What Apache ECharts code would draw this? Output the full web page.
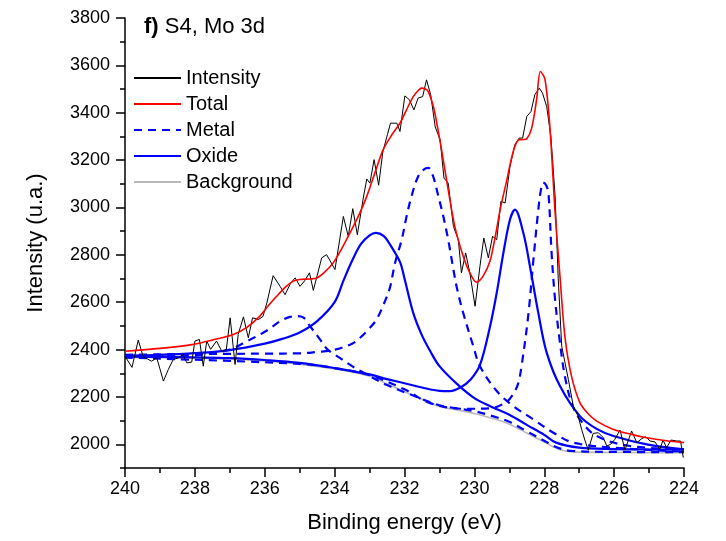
<!DOCTYPE html>
<html><head><meta charset="utf-8">
<script src="https://cdn.jsdelivr.net/npm/echarts@6/dist/echarts.min.js"></script>
<style>html,body{margin:0;padding:0;background:#fff}#c{width:726px;height:541px}</style>
</head><body><div id="c"></div>
<script>
const yMajorTicks = [2000,2200,2400,2600,2800,3000,3200,3400,3600,3800];

const intensityE = [240.00,239.80,239.62,239.48,239.24,239.09,238.90,238.76,238.62,238.47,238.35,238.23,238.09,238.00,237.87,237.76,237.66,237.55,237.38,237.23,237.10,236.99,236.85,236.76,236.61,236.47,236.35,236.18,236.05,235.94,235.76,235.56,235.42,235.26,235.13,234.99,234.86,234.72,234.61,234.37,234.23,233.99,233.75,233.61,233.48,233.35,233.18,233.08,232.99,232.87,232.74,232.62,232.49,232.40,232.22,232.13,231.99,231.86,231.73,231.61,231.48,231.37,231.25,231.12,230.98,230.87,230.75,230.60,230.46,230.37,230.25,230.13,229.98,229.84,229.73,229.60,229.48,229.36,229.24,229.12,228.98,228.84,228.72,228.62,228.50,228.38,228.27,228.14,228.05,227.93,227.81,227.69,227.60,227.50,227.31,227.17,227.03,226.93,226.83,226.74,226.60,226.45,226.31,226.21,226.10,225.98,225.83,225.69,225.50,225.35,225.21,225.10,224.97,224.83,224.69,224.60,224.50,224.37,224.21,224.10,224.02];
const intensityY = [2372,2325,2440,2370,2351,2365,2267,2316,2358,2365,2379,2344,2347,2436,2443,2330,2436,2401,2436,2393,2400,2534,2337,2464,2538,2450,2534,2527,2540,2597,2712,2667,2632,2680,2703,2667,2690,2724,2650,2787,2801,2738,2962,2878,2995,2885,3040,3120,3103,3202,3094,3235,3307,3356,3356,3321,3471,3455,3412,3462,3468,3539,3476,3340,3286,3124,3103,2920,2864,2724,2808,2724,2583,2752,2871,2787,2878,2864,3026,3019,3173,3265,3293,3293,3384,3405,3476,3504,3483,3426,3300,3050,2700,2414,2274,2162,2119,2063,2014,1976,2046,2049,2028,1993,2000,2021,2060,1976,2056,2007,2024,2032,2014,2010,1979,2018,1986,2018,2014,2014,1944];

const totalE = [240,239,238.04,237.5,236.9,236.5,236.14,235.9,235.66,235.4,235.18,235,234.7,234.51,234.3,234.04,233.8,233.56,233.3,233.08,232.85,232.61,232.37,232.13,231.95,231.75,231.6,231.51,231.4,231.32,231.2,231.13,230.94,230.75,230.56,230.32,230.13,229.94,229.75,229.55,229.4,229.25,229.08,228.95,228.84,228.72,228.6,228.5,228.36,228.22,228.11,227.98,227.84,227.69,227.55,227.41,227.22,226.98,226.75,226.5,226.02,225.5,225.07,224.5,224];
const totalY = [2393,2405,2422,2440,2464,2495,2541,2585,2625,2665,2689,2696,2698,2702,2725,2766,2825,2893,2970,3047,3145,3244,3305,3356,3410,3468,3495,3504,3500,3489,3440,3398,3244,3075,2920,2794,2724,2684,2710,2775,2880,3000,3110,3200,3258,3286,3287,3290,3335,3455,3574,3542,3342,2980,2710,2457,2288,2176,2130,2098,2063,2042,2028,2015,2007];

const metal1E = [240,239,238,237.5,237,236.5,236,235.76,235.5,235.28,235.1,234.9,234.71,234.42,234.2,233.85,233.5,233.08,232.5,231.84,231,230.5,230,229.5,229,228.5,228,227.6,227.2,226,224];
const metal1Y = [2372,2372,2375,2385,2400,2436,2475,2499,2525,2538,2541,2536,2500,2443,2400,2365,2330,2295,2250,2211,2165,2152,2140,2120,2095,2055,2015,1985,1972,1968,1967];

const metal2E = [240,239,238,237,236,235,234.5,234.04,233.5,233.27,233,232.8,232.6,232.42,232.27,232.08,231.94,231.8,231.61,231.45,231.32,231.18,231.03,230.89,230.75,230.6,230.5,230.32,230.03,229.84,229.36,228.89,228.31,227.74,227.17,226.02,224];
const metal2Y = [2378,2380,2381,2382,2383,2384,2390,2398,2425,2450,2490,2527,2590,2660,2766,2864,2963,3047,3131,3160,3167,3131,3047,2963,2864,2738,2660,2555,2414,2330,2225,2162,2105,2049,2007,1986,1969];

const metal3E = [240,235,234,233,232,231.28,230.33,229.56,229.09,228.9,228.75,228.65,228.46,228.31,228.17,228.1,228.03,227.95,227.88,227.79,227.69,227.55,227.41,227.22,226.98,226.5,225.55,224];
const metal3Y = [2366,2340,2322,2292,2232,2175,2150,2152,2178,2210,2255,2330,2541,2780,2991,3070,3105,3095,3061,2808,2611,2429,2288,2176,2105,2035,1993,1979];

const oxide1E = [240,239,238,237,236,235.5,235,234.5,234,233.75,233.5,233.25,233,232.82,232.6,232.4,232.13,232,231.75,231.5,231.25,231,230.5,230,229.5,229,228.5,228,227.66,227,226,225,224];
const oxide1Y = [2375,2378,2385,2398,2425,2445,2472,2520,2600,2690,2775,2845,2882,2893,2880,2840,2770,2700,2555,2460,2390,2330,2255,2195,2158,2125,2082,2040,2007,1986,1980,1978,1977];

const oxide2E = [240,239,238,237,236,235,234,233,232.5,232,231.5,231,230.7,230.4,230.1,229.84,229.55,229.36,229.17,228.98,228.84,228.6,228.41,228.17,227.93,227.55,226.98,226.5,226.02,225.07,224];
const oxide2Y = [2370,2369,2367,2364,2356,2344,2322,2295,2275,2258,2240,2226,2225,2240,2275,2335,2499,2640,2808,2949,2991,2893,2752,2555,2387,2246,2119,2065,2035,2000,1979];

const backgroundE = [240,239,238,237,236,235,234,233.5,233,232.5,232,231.5,231,230.5,230,229.5,229,228.5,228,227.6,227.2,226.5,225,224];
const backgroundY = [2367,2366,2364,2360,2352,2338,2318,2305,2288,2255,2222,2190,2160,2145,2130,2110,2085,2048,2010,1980,1968,1966,1965,1965];

const zip = (xs, ys) => xs.map((x, i) => [x, ys[i]]);
const FONT = 'Liberation Sans';

const chart = echarts.init(document.getElementById('c'), null, {renderer: 'canvas'});

const metalStyle = {color: '#0000ff', width: 2.2, type: [8, 6]};
const oxideStyle = {color: '#0000ff', width: 2.2, type: 'solid'};

chart.setOption({
  animation: false,
  backgroundColor: '#ffffff',
  title: {
    text: '{b|f)} S4, Mo 3d',
    left: 144, top: 16, padding: 0,
    textStyle: {
      fontFamily: FONT, fontSize: 22, fontWeight: 'normal', color: '#000',
      rich: {b: {fontFamily: FONT, fontSize: 22, fontWeight: 'bold', color: '#000'}}
    }
  },
  legend: {
    orient: 'vertical', left: 133, top: 68, padding: 0,
    itemWidth: 47, itemHeight: 14, itemGap: 6,
    data: ['Intensity', 'Total', 'Metal', 'Oxide', 'Background'],
    textStyle: {fontFamily: FONT, fontSize: 20, color: '#000', lineHeight: 20},
    itemStyle: {opacity: 0},
    selectedMode: false
  },
  grid: {left: 125, right: 42, top: 18, bottom: 73, containLabel: false},
  xAxis: {
    type: 'value', inverse: true, min: 224, max: 240, interval: 2,
    name: 'Binding energy (eV)', nameLocation: 'middle', nameGap: 44,
    nameTextStyle: {fontFamily: FONT, fontSize: 22, color: '#000'},
    axisLine: {show: true, onZero: false, lineStyle: {color: '#000', width: 1.5}},
    axisTick: {show: true, length: 9, lineStyle: {color: '#000', width: 1.5}},
    minorTick: {show: true, splitNumber: 2, length: 5, lineStyle: {color: '#000', width: 1.5}},
    axisLabel: {fontFamily: FONT, fontSize: 18, color: '#000', margin: 12, formatter: v => String(v)},
    splitLine: {show: false}, minorSplitLine: {show: false}
  },
  yAxis: [{
    type: 'value', min: 1900, max: 3800, interval: 100,
    name: 'Intensity (u.a.)', nameLocation: 'middle', nameGap: 78,
    nameTextStyle: {fontFamily: FONT, fontSize: 22, color: '#000'},
    axisLine: {show: true, onZero: false, lineStyle: {color: '#000', width: 1.5}},
    axisTick: {show: true, length: 9, customValues: yMajorTicks, lineStyle: {color: '#000', width: 1.5}},
    axisLabel: {fontFamily: FONT, fontSize: 18, color: '#000', margin: 15, customValues: yMajorTicks, formatter: v => String(v)},
    splitLine: {show: false}
  }, {
    type: 'value', min: 1900, max: 3800, interval: 100, position: 'left', offset: 0,
    axisLine: {show: false},
    axisTick: {show: true, length: 5, lineStyle: {color: '#000', width: 1.5}},
    axisLabel: {show: false},
    splitLine: {show: false}
  }],
  series: [
    {name: 'Intensity', type: 'line', data: zip(intensityE, intensityY), showSymbol: false, symbol: 'none', smooth: false,
     lineStyle: {color: '#000000', width: 1}, itemStyle: {color: '#000000'}, z: 4},
    {name: 'Total', type: 'line', data: zip(totalE, totalY), showSymbol: false, symbol: 'none', smooth: 0.3,
     lineStyle: {color: '#ff0000', width: 1.6}, itemStyle: {color: '#ff0000'}, z: 5},
    {name: 'Metal', type: 'line', data: zip(metal1E, metal1Y), showSymbol: false, symbol: 'none', smooth: 0.35,
     lineStyle: metalStyle, itemStyle: {color: '#0000ff'}, z: 3},
    {name: 'Metal', type: 'line', data: zip(metal2E, metal2Y), showSymbol: false, symbol: 'none', smooth: 0.35,
     lineStyle: metalStyle, itemStyle: {color: '#0000ff'}, z: 3},
    {name: 'Metal', type: 'line', data: zip(metal3E, metal3Y), showSymbol: false, symbol: 'none', smooth: 0.35,
     lineStyle: metalStyle, itemStyle: {color: '#0000ff'}, z: 3},
    {name: 'Oxide', type: 'line', data: zip(oxide1E, oxide1Y), showSymbol: false, symbol: 'none', smooth: 0.35,
     lineStyle: oxideStyle, itemStyle: {color: '#0000ff'}, z: 3},
    {name: 'Oxide', type: 'line', data: zip(oxide2E, oxide2Y), showSymbol: false, symbol: 'none', smooth: 0.35,
     lineStyle: oxideStyle, itemStyle: {color: '#0000ff'}, z: 3},
    {name: 'Background', type: 'line', data: zip(backgroundE, backgroundY), showSymbol: false, symbol: 'none', smooth: 0.35,
     lineStyle: {color: '#b8b8b8', width: 1.6}, itemStyle: {color: '#b8b8b8'}, z: 2}
  ]
});
</script>
</body></html>
